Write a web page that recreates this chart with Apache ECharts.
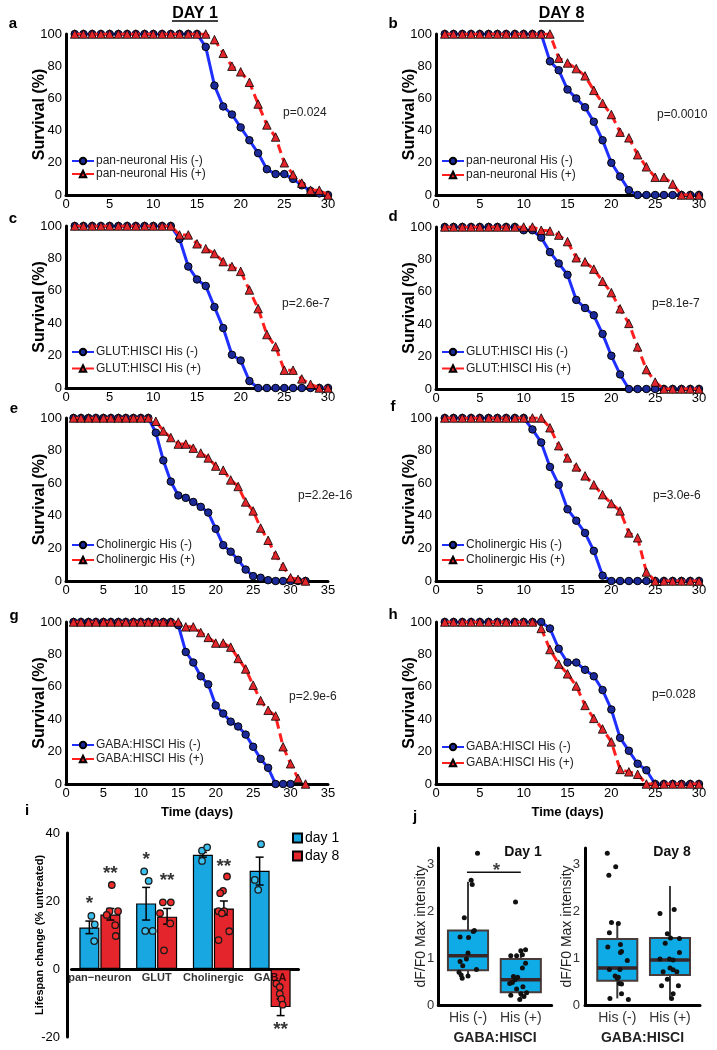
<!DOCTYPE html>
<html><head><meta charset="utf-8">
<script src="https://cdn.jsdelivr.net/npm/echarts@6/dist/echarts.min.js"></script>
<style>html,body{margin:0;padding:0;background:#fff}#c{width:717px;height:1050px}</style>
</head><body><div id="c"></div><script>
// ---------------- DATA ----------------
const DAYS_30 = [1,2,3,4,5,6,7,8,9,10,11,12,13,14,15,16,17,18,19,20,21,22,23,24,25,26,27,28,29,30];
const DAYS_32 = [1,2,3,4,5,6,7,8,9,10,11,12,13,14,15,16,17,18,19,20,21,22,23,24,25,26,27,28,29,30,31,32];

const A_NEG = [100,100,100,100,100,100,100,100,100,100,100,100,100,100,100,92,68,55,50,42,34,26,16,13,13,10,6,2.5,1,0];
const A_POS = [100,100,100,100,100,100,100,100,100,100,100,100,100,100,100,100,96.5,88,80,76.5,70,56.5,43.5,36,20,12.6,7.4,3,3,0];
const B_NEG = [100,100,100,100,100,100,100,100,100,100,100,100,83,77.5,65.5,60,54.5,45.5,34,20,11.5,3,0,0,0,0,0,0,0,0];
const B_POS = [100,100,100,100,100,100,100,100,100,100,100,100,100,85,82,78.5,74,65,57,50,39,35.5,25,17.5,11,11,6.8,0,0,0];
const C_NEG = [100,100,100,100,100,100,100,100,100,100,100,100,92,75,67,63,50,37,20.5,17,4.3,0,0,0,0,0,0,0,0,0];
const C_POS = [100,100,100,100,100,100,100,100,100,100,100,100,94.5,94.5,89,86,83,78,75,72,60.5,49,33,25.5,11,11,5.6,2.3,0,0];
const D_NEG = [100,100,100,100,100,100,100,100,100,98,98,93.5,84.5,77.5,70.5,55,50,45.5,34,20.5,9,0,0,0,0,0,0,0,0,0];
const D_POS = [100,100,100,100,100,100,100,100,100,100,100,98,97.5,95,91,81,78.5,74,66.5,59.5,49.5,40.5,26,12,4.3,0,0,0,0,0];
const E_NEG = [100,100,100,100,100,100,100,100,100,100,100,91,74,61,52.5,51,48.5,45.5,42,32,22,18,13,7,3,2,0.5,0,0,0,0,0];
const E_POS = [100,100,100,100,100,100,100,100,100,100,100,98,92,88,84,84,81.5,78.5,75.5,70.5,68,62,58,48.5,43,32.5,25,16,9,2,1,0];
const F_NEG = [100,100,100,100,100,100,100,100,100,100,93,85,70,59,44,37,29.5,18.5,3.3,0,0,0,0,0,0,0,0,0,0,0];
const F_POS = [100,100,100,100,100,100,100,100,100,100,100,100,94,83,75.5,70,64.5,59,53,47.5,43,29.5,26.5,5.5,0,0,0,0,0,0];
const G_NEG = [100,100,100,100,100,100,100,100,100,100,100,100,100,100,98,81.5,75,66.5,61.5,48.5,43.5,38.5,35.5,30.5,23,15.5,10,0,0,0];
const G_POS = [100,100,100,100,100,100,100,100,100,100,100,100,100,100,100,97,97,93.5,90.5,87,87,84.5,77.5,71,61,51.5,45.5,42,23,12.5,3.5,0];
const H_NEG = [100,100,100,100,100,100,100,100,100,100,100,100,96,83.5,75,75,70.5,66.5,58,46,28.5,20.5,12.5,8.5,0,0,0,0,0,0];
const H_POS = [100,100,100,100,100,100,100,100,100,100,100,96,83,74,68,60.5,48.5,40.5,34,26,9,7.5,6,0,0,0,0,0,0,0];

const P_VALUES = ['p=0.024','p=0.0010','p=2.6e-7','p=8.1e-7','p=2.2e-16','p=3.0e-6','p=2.9e-6','p=0.028'];

// panel i
const GROUPS = ['pan\u2212neuron','GLUT','Cholinergic','GABA'];
const BAR_D1 = [12.2, 19.3, 33.6, 28.9];
const BAR_D8 = [16.0, 15.4, 17.8, -11.2];
const ERR_LO_D1 = [10.4, 14.4, 32.9, 24.7];
const ERR_HI_D1 = [14.1, 24.0, 34.3, 32.9];
const ERR_LO_D8 = [14.4, 13.2, 15.9, -13.7];
const ERR_HI_D8 = [17.8, 17.8, 20.0, -8.8];
// dots: [group, jitter from group centre, value]
const DOTS_D1 = [[0,-0.15,15.6],[0,-0.09,13.1],[0,-0.10,8.2],
  [1,-0.22,28.7],[1,-0.14,25.9],[1,-0.20,11.2],[1,-0.07,11.2],
  [2,-0.20,34.8],[2,-0.11,35.8],[2,-0.20,31.8],
  [3,-0.16,36.7],[3,-0.27,26.2],[3,-0.21,23.3]];
const DOTS_D8 = [[0,0.21,24.7],[0,0.17,17],[0,0.32,17],[0,0.12,15.9],[0,0.27,12.9],[0,0.28,9.7],
  [1,0.11,19.6],[1,0.25,19.6],[1,0.06,16.4],[1,0.24,13.4],[1,0.13,5.5],
  [2,0.24,27.2],[2,0.17,23],[2,0.12,22.3],[2,0.09,17],[2,0.19,17],[2,0.15,16.4],[2,0.28,11.1],[2,0.09,8.5],
  [3,0.11,-4.3],[3,0.17,-5.3],[3,0.17,-7.3],[3,0.20,-8.8],[3,0.22,-10.5],[3,0.20,-20.4]];
const STAR_TXT_D1 = ['*','*','**','*'];
const STAR_Y_D1 = [20.8, 33.6, 40.5, 40.5];
const STAR_TXT_D8 = ['**','**','**','**'];
const STAR_Y_D8 = [29.6, 27.4, 31.6, -16.5];

// panel j : [min, Q1, median, Q3, max]
const BOX_LABELS = ['His (-)','His (+)'];
const BOX_DAY1 = [[0.61, 0.74, 1.05, 1.59, 2.63],[0.14, 0.27, 0.54, 0.98, 1.18]];
const BOX_DAY8 = [[0.14, 0.52, 0.79, 1.41, 1.74],[0.14, 0.64, 0.96, 1.43, 2.54]];
// points: [jitter, value]
const PTS_DAY1_NEG = [[0.18,3.24],[0.06,2.66],[0.08,2.57],[-0.07,1.86],[0.12,1.59],[0.10,1.57],[-0.15,1.45],[0.01,1.44],[0,1.11],[-0.15,0.93],[-0.10,0.84],[-0.03,0.98],[0.16,0.76],[-0.17,0.70],[-0.13,0.64],[-0.11,0.57],[0,0.62]];
const PTS_DAY1_POS = [[-0.10,2.2],[-0.19,1.05],[-0.08,1.05],[0.03,1.07],[0.09,1.18],[0,1.16],[0.09,0.89],[0.03,0.79],[-0.14,0.61],[-0.06,0.59],[-0.11,0.54],[-0.16,0.48],[-0.21,0.46],[0.04,0.39],[-0.08,0.34],[-0.19,0.21],[0,0.24],[0.11,0.26],[0.06,0.18],[-0.02,0.12]];
const PTS_DAY8_NEG = [[-0.19,3.24],[-0.03,2.95],[-0.16,2.77],[-0.11,1.76],[0.02,1.74],[-0.15,1.54],[-0.18,1.24],[0.06,1.29],[0.08,1.14],[0.06,1.12],[0.19,0.95],[-0.15,0.76],[0.05,0.76],[-0.04,0.62],[0.02,0.59],[0.04,0.46],[0.08,0.45],[0,0.57],[-0.14,0.14],[0.08,0.24],[0.21,0.12]];
const PTS_DAY8_POS = [[-0.19,1.95],[0.08,2.04],[-0.05,1.52],[0.01,1.43],[0.18,1.42],[-0.09,1.32],[0.18,1.12],[-0.19,0.98],[-0.01,0.98],[0.06,0.96],[-0.13,0.71],[0,0.79],[0.13,0.71],[0.06,0.75],[-0.05,0.55],[-0.16,0.41],[0.16,0.41],[0.06,0.24],[0.03,0.14]];
const SIG_LINE = [[-0.02, 2.83],[1.0, 2.83]];
const SIG_STAR = [0.54, 2.98];

// ---------------- STYLE / LAYOUT ----------------
const FONT = '"Liberation Sans", Arial, Helvetica, sans-serif';
const BLUE_LINE = '#1f2fff', BLUE_MARK = '#1c2a99';
const RED_LINE = '#ff1f1f', RED_MARK = '#e3262b';
const BLUE_BAR = '#18a7e1', RED_BAR = '#e4262c';
const BOX_FILL = '#0eabe6';
const AXLINE = {color:'#000', width:3};

const SURV = [
  {grid:{left:66,top:34,width:262,height:161}, xmax:30, days:DAYS_30, neg:A_NEG, pos:A_POS, nm:'pan-neuronal', lg:{left:71,top:154.5,gap:0}, p:[283,113]},
  {grid:{left:436,top:34,width:263,height:161}, xmax:30, days:DAYS_30, neg:B_NEG, pos:B_POS, nm:'pan-neuronal', lg:{left:441,top:154.5,gap:1}, p:[657,115]},
  {grid:{left:66,top:226,width:262,height:162}, xmax:30, days:DAYS_30, neg:C_NEG, pos:C_POS, nm:'GLUT:HISCI', lg:{left:71,top:345.5,gap:3.5}, p:[282,304]},
  {grid:{left:436,top:227,width:263,height:162}, xmax:30, days:DAYS_30, neg:D_NEG, pos:D_POS, nm:'GLUT:HISCI', lg:{left:441,top:345.5,gap:3.5}, p:[652,304]},
  {grid:{left:66,top:418,width:262,height:163}, xmax:35, days:DAYS_32, neg:E_NEG, pos:E_POS, nm:'Cholinergic', lg:{left:71,top:538.5,gap:2}, p:[298,496]},
  {grid:{left:436,top:418,width:263,height:163}, xmax:30, days:DAYS_30, neg:F_NEG, pos:F_POS, nm:'Cholinergic', lg:{left:441,top:538.5,gap:2}, p:[653,496]},
  {grid:{left:66,top:622,width:262,height:162}, xmax:35, days:DAYS_32, neg:G_NEG, pos:G_POS, nm:'GABA:HISCI', lg:{left:71,top:738.5,gap:1}, p:[289,697], xname:'Time (days)'},
  {grid:{left:436,top:622,width:263,height:162}, xmax:30, days:DAYS_30, neg:H_NEG, pos:H_POS, nm:'GABA:HISCI', lg:{left:441,top:740.5,gap:3}, p:[652,695], xname:'Time (days)'}
];

const option = {animation:false, backgroundColor:'#fff', textStyle:{fontFamily:FONT},
  grid:[], xAxis:[], yAxis:[], series:[], legend:[], graphic:[]};

function txt(text, x, y, size, bold, align, color){
  return {type:'text', x:x, y:y, z:100, style:{text:text, fill:color||'#000',
    font:(bold?'bold ':'')+size+'px '+FONT, textAlign:align||'center', align:align||'center',
    textVerticalAlign:'middle', verticalAlign:'middle'}};
}

SURV.forEach((P, k) => {
  const gi = option.grid.length;
  option.grid.push(P.grid);
  option.xAxis.push({gridIndex:gi, type:'value', min:0, max:P.xmax, interval:5,
    axisLine:{show:true,onZero:false,lineStyle:AXLINE}, axisTick:{show:false}, splitLine:{show:false},
    axisLabel:{color:'#000', fontSize:13, margin:3, fontFamily:FONT},
    name:P.xname||'', nameLocation:'middle', nameGap:22,
    nameTextStyle:{color:'#000', fontSize:13, fontWeight:'bold', fontFamily:FONT}});
  option.yAxis.push({gridIndex:gi, type:'value', min:0, max:100, interval:20,
    axisLine:{show:true,onZero:false,lineStyle:AXLINE}, axisTick:{show:false}, splitLine:{show:false},
    axisLabel:{color:'#000', fontSize:13, margin:4, fontFamily:FONT},
    name:'Survival (%)', nameLocation:'middle', nameGap:18, nameMoveOverlap:false,
    nameTextStyle:{color:'#000', fontSize:16, fontWeight:'bold', fontFamily:FONT}});
  const ax = option.xAxis.length-1, ay = option.yAxis.length-1;
  const negName = P.nm + ' His (-)', posName = P.nm + ' His (+)';
  option.series.push({type:'line', name:negName, xAxisIndex:ax, yAxisIndex:ay,
    data:P.neg.map((v,i)=>[P.days[i], v]), symbol:'circle', symbolSize:7.5,
    lineStyle:{color:BLUE_LINE, width:3}, itemStyle:{color:BLUE_MARK, borderColor:'#000', borderWidth:1}, z:2});
  option.series.push({type:'line', name:posName, xAxisIndex:ax, yAxisIndex:ay,
    data:P.pos.map((v,i)=>[P.days[i], v]), symbol:'triangle', symbolSize:8.5,
    lineStyle:{color:RED_LINE, width:3, type:[9,5]}, itemStyle:{color:RED_MARK, borderColor:'#000', borderWidth:0.8}, z:3});
  option.legend.push({left:P.lg.left, top:P.lg.top, orient:'vertical', padding:0, itemGap:P.lg.gap,
    itemWidth:22, itemHeight:8, selectedMode:false, data:[negName, posName],
    textStyle:{fontSize:12, color:'#222', fontFamily:FONT, lineHeight:13, padding:[0,0,0,-3]}});
  option.graphic.push(txt(P_VALUES[k], P.p[0], P.p[1], 12, false, 'left', '#222'));
});

// ---- panel i ----
(function(){
  const gi = option.grid.length;
  option.grid.push({left:71.5, top:833, width:227, height:204});
  const cx = option.xAxis.length;
  option.xAxis.push({gridIndex:gi, type:'category', data:GROUPS,
    axisLine:{show:true,onZero:true,lineStyle:AXLINE}, axisTick:{show:false},
    axisLabel:{show:false}});
  const vx = option.xAxis.length;
  option.xAxis.push({gridIndex:gi, type:'value', min:-0.5, max:3.5, show:false});
  const ay = option.yAxis.length;
  option.yAxis.push({gridIndex:gi, type:'value', min:-20, max:40, interval:20, offset:4.5,
    axisLine:{show:true,onZero:false,lineStyle:AXLINE}, axisTick:{show:false}, splitLine:{show:false},
    axisLabel:{color:'#000', fontSize:13, margin:7, fontFamily:FONT},
    name:'Lifespan change (% untreated)', nameLocation:'middle', nameGap:22, nameMoveOverlap:false,
    nameTextStyle:{color:'#000', fontSize:11, fontWeight:'bold', fontFamily:FONT}});
  const SHIFT = 0.185;
  option.series.push({type:'bar', name:'day 1', xAxisIndex:cx, yAxisIndex:ay, data:BAR_D1, barWidth:20, barGap:'5%',
    itemStyle:{color:BLUE_BAR, borderColor:'#000', borderWidth:1.2}, z:2});
  option.series.push({type:'bar', name:'day 8', xAxisIndex:cx, yAxisIndex:ay, data:BAR_D8, barWidth:20, barGap:'5%',
    itemStyle:{color:RED_BAR, borderColor:'#000', borderWidth:1.2}, z:2});
  function renderErr(params, api){
    const x = api.value(0);
    const p1 = api.coord([x, api.value(1)]), p2 = api.coord([x, api.value(2)]);
    const w = 4, st = {stroke:'#000', lineWidth:1.5};
    return {type:'group', children:[
      {type:'line', shape:{x1:p1[0],y1:p1[1],x2:p2[0],y2:p2[1]}, style:st},
      {type:'line', shape:{x1:p1[0]-w,y1:p1[1],x2:p1[0]+w,y2:p1[1]}, style:st},
      {type:'line', shape:{x1:p2[0]-w,y1:p2[1],x2:p2[0]+w,y2:p2[1]}, style:st}]};
  }
  const errData = GROUPS.map((g,i)=>[i-SHIFT, ERR_LO_D1[i], ERR_HI_D1[i]])
    .concat(GROUPS.map((g,i)=>[i+SHIFT, ERR_LO_D8[i], ERR_HI_D8[i]]));
  option.series.push({type:'custom', xAxisIndex:vx, yAxisIndex:ay, renderItem:renderErr,
    encode:{x:0, y:[1,2]}, data:errData, z:4, silent:true});
  option.series.push({type:'scatter', xAxisIndex:vx, yAxisIndex:ay, symbol:'circle', symbolSize:6.5,
    data:DOTS_D1.map(d=>[d[0]+d[1], d[2]]), itemStyle:{color:'#3cc0ef', borderColor:'#1a1a1a', borderWidth:1.3, opacity:1}, z:5});
  option.series.push({type:'scatter', xAxisIndex:vx, yAxisIndex:ay, symbol:'circle', symbolSize:6.5,
    data:DOTS_D8.map(d=>[d[0]+d[1], d[2]]), itemStyle:{color:'#ee2a2a', borderColor:'#1a1a1a', borderWidth:1.3, opacity:1}, z:5});
  // category labels placed on the zero line (as in the reference), drawn above bars
  option.series.push({type:'scatter', xAxisIndex:vx, yAxisIndex:ay, symbolSize:0, silent:true, z:7,
    data:GROUPS.map((g,i)=>({value:[i,0], name:g})),
    label:{show:true, position:'inside', formatter:'{b}', fontSize:11, fontWeight:'bold', color:'#000', offset:[0,9], fontFamily:FONT}});
  const stars = GROUPS.map((g,i)=>({value:[i-SHIFT, STAR_Y_D1[i]], name:STAR_TXT_D1[i]}))
    .concat(GROUPS.map((g,i)=>({value:[i+SHIFT, STAR_Y_D8[i]], name:STAR_TXT_D8[i]})));
  option.series.push({type:'scatter', xAxisIndex:vx, yAxisIndex:ay, symbolSize:0, data:stars, z:6, silent:true,
    label:{show:true, position:'inside', formatter:'{b}', fontSize:19, fontWeight:'bold', color:'#000', offset:[0,5], fontFamily:FONT}});
  option.legend.push({left:292, top:831, orient:'vertical', padding:0, itemGap:4, itemWidth:9, itemHeight:9,
    icon:'rect', selectedMode:false, data:['day 1','day 8'],
    textStyle:{fontSize:14, color:'#000', fontFamily:FONT, padding:[0,0,0,-2]}});
})();

// ---- panel j ----
function renderBox(params, api){
  const x = api.value(0);
  const pMin = api.coord([x, api.value(1)]), pQ1 = api.coord([x, api.value(2)]),
        pMed = api.coord([x, api.value(3)]), pQ3 = api.coord([x, api.value(4)]),
        pMax = api.coord([x, api.value(5)]);
  const half = api.size([0.38, 0])[0];
  return {type:'group', children:[
    {type:'line', shape:{x1:pMin[0],y1:pMin[1],x2:pMax[0],y2:pMax[1]}, style:{stroke:'#3a3a3a', lineWidth:2}},
    {type:'rect', shape:{x:pQ3[0]-half, y:pQ3[1], width:2*half, height:pQ1[1]-pQ3[1]},
      style:{fill:BOX_FILL, stroke:'#4a3b3b', lineWidth:2}},
    {type:'line', shape:{x1:pMed[0]-half,y1:pMed[1],x2:pMed[0]+half,y2:pMed[1]}, style:{stroke:'#3a2626', lineWidth:3.5}}
  ]};
}
function addBox(grid, xmin, xmax, stats, ptsNeg, ptsPos, nameGap, labMargin, sig){
  const gi = option.grid.length;
  option.grid.push(grid);
  const ax = option.xAxis.length;
  option.xAxis.push({gridIndex:gi, type:'value', min:xmin, max:xmax,
    axisLine:{show:true,onZero:false,lineStyle:AXLINE}, axisTick:{show:false}, splitLine:{show:false},
    axisLabel:{color:'#333', fontSize:14, margin:6, fontFamily:FONT,
      formatter:v => (Math.abs(v) < 1e-9 ? BOX_LABELS[0] : (Math.abs(v-1) < 1e-9 ? BOX_LABELS[1] : ''))},
    name:'GABA:HISCI', nameLocation:'middle', nameGap:26,
    nameTextStyle:{color:'#222', fontSize:14, fontWeight:'bold', fontFamily:FONT}});
  const ay = option.yAxis.length;
  option.yAxis.push({gridIndex:gi, type:'value', min:0, max:3.35, interval:1,
    axisLine:{show:true,onZero:false,lineStyle:AXLINE}, axisTick:{show:false}, splitLine:{show:false},
    axisLabel:{color:'#333', fontSize:13, margin:labMargin, fontFamily:FONT,
      formatter:v => (Math.abs(v-Math.round(v)) < 1e-9 ? String(Math.round(v)) : '')},
    name:'dF/F0 Max intensity', nameLocation:'middle', nameGap:nameGap, nameMoveOverlap:false,
    nameTextStyle:{color:'#222', fontSize:14, fontFamily:FONT}});
  option.series.push({type:'custom', xAxisIndex:ax, yAxisIndex:ay, renderItem:renderBox,
    encode:{x:0, y:[1,2,3,4,5]}, data:stats.map((s,i)=>[i].concat(s)), z:2, silent:true});
  option.series.push({type:'scatter', xAxisIndex:ax, yAxisIndex:ay, symbolSize:5,
    data:ptsNeg.map(p=>[0+p[0], p[1]]).concat(ptsPos.map(p=>[1+p[0], p[1]])),
    itemStyle:{color:'#111', opacity:1}, z:5});
  if (sig){
    option.series.push({type:'line', xAxisIndex:ax, yAxisIndex:ay, data:SIG_LINE, symbol:'none',
      lineStyle:{color:'#111', width:1.5}, z:5});
    option.series.push({type:'scatter', xAxisIndex:ax, yAxisIndex:ay, symbolSize:0,
      data:[{value:SIG_STAR, name:'*'}], z:6, silent:true,
      label:{show:true, position:'inside', formatter:'{b}', fontSize:19, fontWeight:'bold', color:'#111', offset:[0,5], fontFamily:FONT}});
  }
}
addBox({left:438.3, top:848, width:113.4, height:157}, -0.5625, 1.585, BOX_DAY1, PTS_DAY1_NEG, PTS_DAY1_POS, 10, 4, true);
addBox({left:585, top:848, width:115, height:157}, -0.613, 1.57, BOX_DAY8, PTS_DAY8_NEG, PTS_DAY8_POS, 11, 5, false);

// ---- titles, letters ----
option.graphic.push(txt('DAY 1', 195, 14, 16, true));
option.graphic.push({type:'line', shape:{x1:172,y1:21,x2:218,y2:21}, style:{stroke:'#000', lineWidth:1.5}});
option.graphic.push(txt('DAY 8', 561.5, 14, 16, true));
option.graphic.push({type:'line', shape:{x1:539,y1:21,x2:584,y2:21}, style:{stroke:'#000', lineWidth:1.5}});
option.graphic.push(txt('Day 1', 523, 852, 14, true, 'center', '#111'));
option.graphic.push(txt('Day 8', 672, 852, 14, true, 'center', '#111'));
[['a',13,24],['b',393,24],['c',13,219],['d',393,217],['e',14,409],['f',393,407],['g',14,616],['h',393,615],['i',27,811],['j',415,817]]
  .forEach(l => option.graphic.push(txt(l[0], l[1], l[2], 15, true)));

const chart = echarts.init(document.getElementById('c'), null, {renderer:'canvas'});
chart.setOption(option);
</script></body></html>
